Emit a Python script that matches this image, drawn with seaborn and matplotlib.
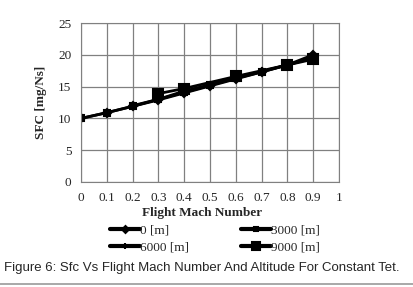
import matplotlib
matplotlib.use("Agg")
import matplotlib.pyplot as plt
import seaborn as sns
import pandas as pd

# data
mach_0 = [0, 0.1, 0.2, 0.3, 0.4, 0.5, 0.6, 0.7, 0.8, 0.9]
sfc_0 = [10.0, 10.9, 11.9, 12.9, 14.0, 15.1, 16.2, 17.3, 18.4, 20.0]
mach_3000 = [0, 0.1, 0.2, 0.3, 0.4, 0.5, 0.6, 0.7, 0.8, 0.9]
sfc_3000 = [10.0, 10.9, 11.9, 13.0, 14.1, 15.2, 16.3, 17.3, 18.4, 19.6]
mach_6000 = [0.2, 0.3, 0.4, 0.5, 0.6, 0.7, 0.8, 0.9]
sfc_6000 = [12.0, 13.0, 14.3, 15.3, 16.4, 17.4, 18.4, 19.5]
mach_9000 = [0.3, 0.4, 0.6, 0.8, 0.9]
sfc_9000 = [13.9, 14.7, 16.6, 18.4, 19.3]

labels = ["0 [m]", "3000 [m]", "6000 [m]", "9000 [m]"]
xticks = [0, 0.1, 0.2, 0.3, 0.4, 0.5, 0.6, 0.7, 0.8, 0.9, 1]
yticks = [0, 5, 10, 15, 20, 25]

sns.set_style("white")
plt.rcParams["font.family"] = ["Liberation Serif", "DejaVu Serif"]

fig = plt.figure(figsize=(4.13, 2.87), dpi=100)
ax = fig.add_axes([81 / 413, 1 - 182 / 287, (339 - 81) / 413, (182 - 23) / 287])

series = [(mach_0, sfc_0, "D", 4.5), (mach_3000, sfc_3000, "s", 4.5),
          (mach_6000, sfc_6000, "|", 6), (mach_9000, sfc_9000, "s", 7)]
for (xs, ys, mk, ms), lab in zip(series, labels):
    df = pd.DataFrame({"x": xs, "y": ys})
    sns.lineplot(data=df, x="x", y="y", ax=ax, color="black", linewidth=2,
                 marker=mk, markersize=ms, markeredgewidth=1.5,
                 markeredgecolor="black", label=lab)

ax.set_xlim(0, 1)
ax.set_ylim(0, 25)
ax.set_xticks(xticks)
ax.set_xticklabels([f"{t:g}" for t in xticks])
ax.set_yticks(yticks)
ax.tick_params(labelsize=9.5, length=3, color="#808080", pad=4)
ax.grid(True, color="#808080", linewidth=0.9)
for s in ax.spines.values():
    s.set_color("#808080")
ax.set_xlabel("")
ax.set_ylabel("SFC [mg/Ns]", fontsize=9.5, fontweight="bold", labelpad=8)

fig.text(0.5 * (81 + 339) / 413 - 0.02, 1 - 213 / 287, "Flight Mach Number",
         fontsize=9.5, fontweight="bold", ha="center", va="center")

# legend filled row by row like the reference (0, 3000 / 6000, 9000)
h, l = ax.get_legend_handles_labels()
order = [0, 2, 1, 3]
leg = ax.legend([h[i] for i in order], [l[i] for i in order],
                loc="upper center", bbox_to_anchor=(0.52, -0.222), ncol=2,
                frameon=False, fontsize=9.5, columnspacing=3.9,
                handlelength=2.3, handletextpad=0, labelspacing=0.4,
                borderpad=0)
for hd, ms in zip(leg.legend_handles, [3.5, 5, 3.5, 6]):
    hd.set_linewidth(3)
    hd.set_markersize(ms)

fig.text(0.01, 1 - 268 / 287,
         "Figure 6: Sfc Vs Flight Mach Number And Altitude For Constant Tet.",
         fontsize=9.5, family="Liberation Sans", ha="left", va="center")
fig.add_artist(plt.Line2D([0, 1], [1 - 284 / 287] * 2, color="#999999",
                          linewidth=1.2, transform=fig.transFigure))

fig.savefig("out.png", dpi=100)
